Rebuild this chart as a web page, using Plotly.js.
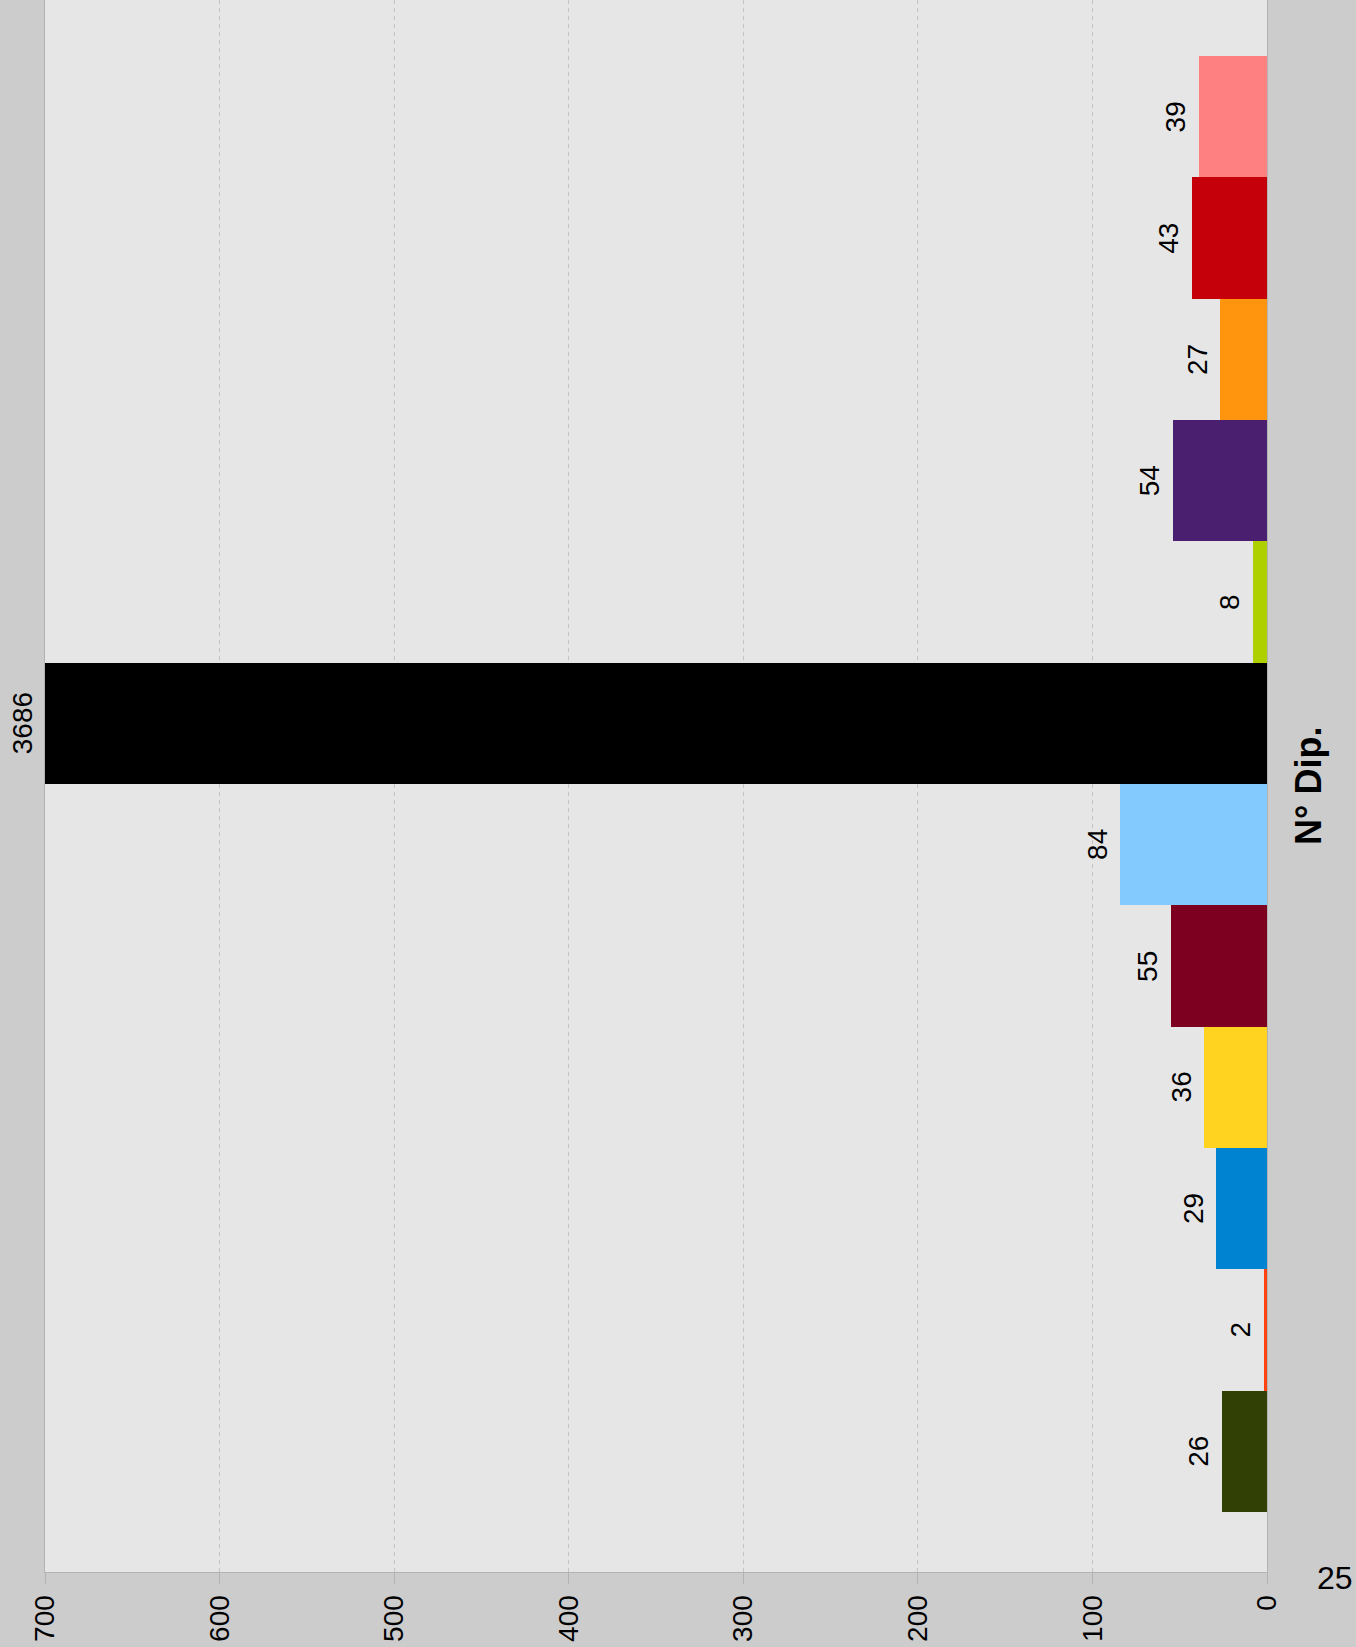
<!DOCTYPE html>
<html>
<head>
<meta charset="utf-8">
<script src="https://cdn.plot.ly/plotly-3.0.1.min.js"></script>
<style>
  html, body { margin: 0; padding: 0; background: #cccccc; }
  #chart { width: 1356px; height: 1647px; }
</style>
</head>
<body>
<div id="chart"></div>
<script>
// Categories (bottom to top once drawn), values and colours
const categories = ["S1", "S2", "S3", "S4", "S5", "S6", "S7", "S8", "S9", "S10", "S11", "S12"];
const values = [26, 2, 29, 36, 55, 84, 3686, 8, 54, 27, 43, 39];
const colors = ["#314004", "#ff420e", "#0084d1", "#ffd320", "#7e0021", "#83caff",
                "#000000", "#aecf00", "#4b1f6f", "#ff950e", "#c5000b", "#ff8080"];
const tickVals = [0, 100, 200, 300, 400, 500, 600, 700];
const tickText = ["0", "100", "200", "300", "400", "500", "600", "700"];
const axisMax = 700;
const axisTitle = "N° Dip.";
const pageNumber = "25";

const FONT = "Liberation Sans, Arial, sans-serif";
const NARROW = "Liberation Sans Narrow, Arial Narrow, Liberation Sans, Arial, sans-serif";

const trace = {
  type: "bar",
  orientation: "h",
  y: categories,
  x: values,
  marker: { color: colors, line: { width: 0 } },
  hoverinfo: "x",
  width: 1
};

// value labels: placed at the (visible) end of each bar, through the axis scale
const valueLabels = values.map((v, i) => ({
  xref: "x", yref: "y",
  x: Math.min(v, axisMax),
  y: categories[i],
  text: String(v),
  textangle: -90,
  xanchor: "center", yanchor: "middle",
  xshift: -23,
  showarrow: false,
  font: { family: NARROW, size: 28, color: "#000000" }
}));

const layout = {
  width: 1356,
  height: 1647,
  margin: { l: 45, r: 89, t: 0, b: 75 },
  paper_bgcolor: "#cccccc",
  plot_bgcolor: "#e6e6e6",
  showlegend: false,
  bargap: 0,
  font: { family: FONT, size: 24, color: "#000000" },
  xaxis: {
    range: [axisMax, 0],
    tickvals: tickVals,
    ticktext: tickText,
    tickangle: -90,
    tickfont: { family: NARROW, size: 28, color: "#000000" },
    ticks: "outside",
    ticklen: 11,
    tickcolor: "#b3b3b3",
    showline: true,
    linecolor: "#b3b3b3",
    linewidth: 1,
    showgrid: true,
    gridcolor: "#c3c3c3",
    gridwidth: 1,
    griddash: "4px,4px",
    zeroline: false,
    fixedrange: true
  },
  yaxis: {
    type: "category",
    side: "right",
    range: [-0.995, 11.96],
    showticklabels: false,
    ticks: "",
    showgrid: false,
    showline: true,
    mirror: true,
    linecolor: "#b3b3b3",
    linewidth: 1,
    zeroline: false,
    fixedrange: true
  },
  annotations: valueLabels.concat([
    {
      xref: "paper", yref: "paper",
      x: 1 + 41 / 1222, y: 0.5,
      xanchor: "center", yanchor: "middle",
      text: "<b>" + axisTitle + "</b>",
      textangle: -90,
      showarrow: false,
      font: { family: FONT, size: 36, color: "#000000" }
    },
    {
      xref: "paper", yref: "paper",
      x: (1335 - 45) / 1222, y: (1572 - 1578) / 1572,
      xanchor: "center", yanchor: "middle",
      text: pageNumber,
      showarrow: false,
      font: { family: FONT, size: 32, color: "#000000" }
    }
  ])
};

Plotly.newPlot("chart", [trace], layout, { displayModeBar: false, staticPlot: true });
</script>
</body>
</html>
